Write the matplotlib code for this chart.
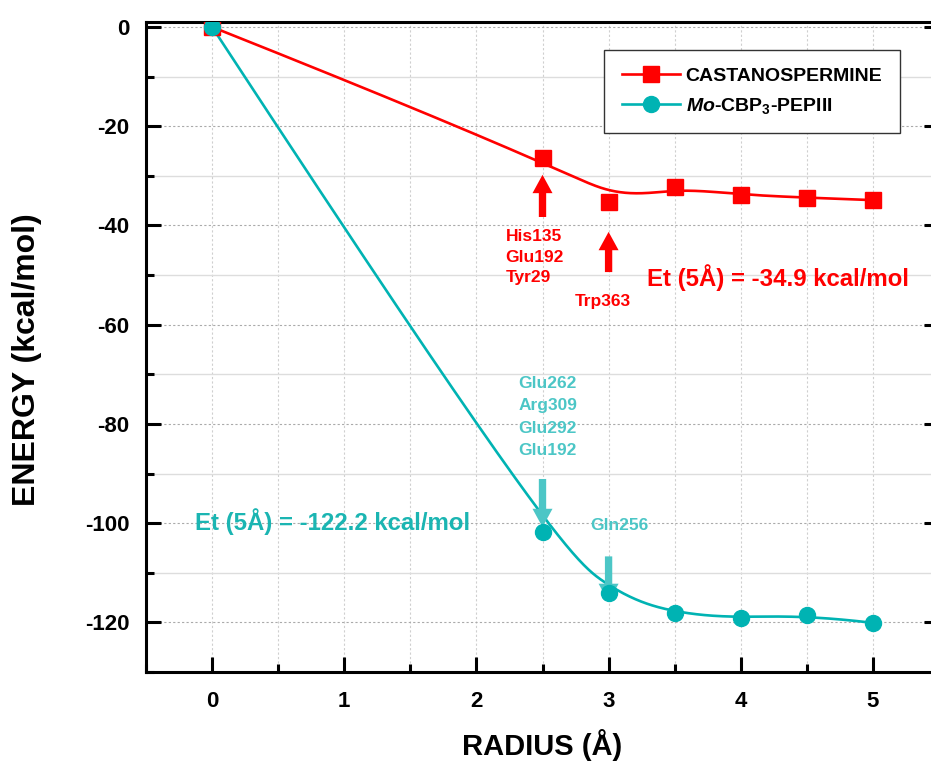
import numpy as np
import matplotlib
matplotlib.use("Agg")
import matplotlib.pyplot as plt

plt.rcParams['font.family'] = ['Liberation Sans', 'DejaVu Sans']
plt.rcParams['font.weight'] = 'bold'
plt.rcParams['mathtext.fontset'] = 'custom'
plt.rcParams['mathtext.rm'] = 'Liberation Sans:bold'
plt.rcParams['mathtext.it'] = 'Liberation Sans:bold:italic'
plt.rcParams['mathtext.bf'] = 'Liberation Sans:bold'

radius = [0, 2.5, 3, 3.5, 4, 4.5, 5]
castanospermine = [0, -26.5, -35.2, -32.3, -33.9, -34.4, -34.9]
mocbp = [0, -101.7, -114.1, -118.2, -119.2, -118.5, -120.1]
x_ticks = [0, 1, 2, 3, 4, 5]
y_ticks = [0, -20, -40, -60, -80, -100, -120]

RED = '#ff0000'
CYAN = '#00b3b3'
CYAN_TXT = '#1bb5b2'
CYAN_LIGHT = '#4cc6c6'


def bspline(xs, ys, npts=400):
    P = np.column_stack([xs, ys]).astype(float)
    n = len(P)
    k = 3
    knots = np.concatenate([[0] * k, np.arange(n - k + 1), [n - k] * k]).astype(float)
    t = np.linspace(0, n - k, npts)
    t[-1] -= 1e-9

    def basis(i, p, tt):
        if p == 0:
            return np.where((knots[i] <= tt) & (tt < knots[i + 1]), 1.0, 0.0)
        a = np.zeros_like(tt)
        d1 = knots[i + p] - knots[i]
        if d1 > 0:
            a += (tt - knots[i]) / d1 * basis(i, p - 1, tt)
        d2 = knots[i + p + 1] - knots[i + 1]
        if d2 > 0:
            a += (knots[i + p + 1] - tt) / d2 * basis(i + 1, p - 1, tt)
        return a

    C = np.zeros((npts, 2))
    for i in range(n):
        C += basis(i, k, t)[:, None] * P[i]
    return C[:, 0], C[:, 1]


fig = plt.figure(figsize=(9.31, 7.64), dpi=100)
ax = fig.add_axes([146 / 931, 1 - 672 / 764, (939 - 146) / 931, (672 - 22) / 764])
ax.set_xlim(-0.5, 5.5)
ax.set_ylim(-130, 1)

# grid
for xv in np.arange(0, 5.01, 0.5):
    ax.axvline(xv, color='#cfcfcf', lw=0.8, ls=(0, (2, 2)), zorder=0)
for yv in y_ticks:
    ax.axhline(yv, color='#aaaaaa', lw=0.8, ls=(0, (2, 2)), zorder=0)
for yv in np.arange(-10, -131, -20):
    ax.axhline(yv, color='#dddddd', lw=1.0, zorder=0)

# curves
bx, by = bspline(radius, castanospermine)
ax.plot(bx, by, color=RED, lw=1.9, zorder=3)
ax.plot(radius, castanospermine, ls='none', marker='s', ms=11, color=RED, zorder=4)
cx, cy = bspline(radius, mocbp)
ax.plot(cx, cy, color=CYAN, lw=1.9, zorder=3)
ax.plot(radius, mocbp, ls='none', marker='o', ms=11.5, color=CYAN, zorder=4)

# legend proxies
h1, = ax.plot([], [], color=RED, lw=1.9, marker='s', ms=11)
h2, = ax.plot([], [], color=CYAN, lw=1.9, marker='o', ms=11.5)
leg = ax.legend([h1, h2], ['CASTANOSPERMINE', r'$\it{Mo}$-CBP$_3$-PEPIII'],
                loc='upper right', bbox_to_anchor=(900 / 931, 1 - 50 / 764),
                bbox_transform=fig.transFigure, borderaxespad=0,
                fancybox=False, edgecolor='#333333', framealpha=1,
                prop={'size': 14, 'weight': 'bold'}, handlelength=3.0,
                borderpad=0.9, labelspacing=0.55, handletextpad=0.3)
leg.get_frame().set_linewidth(1.0)

# ticks and spines
ax.set_xticks(x_ticks)
ax.set_xticks(np.arange(-0.5, 5.51, 0.5), minor=True)
ax.set_yticks(y_ticks)
ax.set_yticks(np.arange(-130, 1, 10), minor=True)
ax.set_xticklabels([str(v) for v in x_ticks])
ax.set_yticklabels([str(v) for v in y_ticks])
ax.tick_params(axis='both', which='major', direction='in', length=11, width=2.2,
               labelsize=16, right=True, top=False)
ax.tick_params(axis='both', which='minor', direction='in', length=6, width=2.2,
               right=True, top=False)
ax.tick_params(axis='x', which='major', pad=14)
ax.tick_params(axis='y', which='major', pad=12)
for s in ax.spines.values():
    s.set_linewidth(2.2)
for lab in ax.get_xticklabels() + ax.get_yticklabels():
    lab.set_fontweight('bold')

fig.text(542 / 931, 1 - 745 / 764, 'RADIUS (Å)', ha='center', va='center',
         fontsize=21, fontweight='bold')
fig.text(27 / 931, 1 - 360 / 764, 'ENERGY (kcal/mol)', ha='center', va='center',
         rotation=90, fontsize=23, fontweight='bold')

# annotations
arrow_kw = dict(arrowstyle='simple,head_length=0.55,head_width=0.6,tail_width=0.22',
                lw=0, shrinkA=0, shrinkB=0, mutation_scale=24)
ax.annotate('', xy=(2.5, -29.8), xytext=(2.5, -38.3),
            arrowprops=dict(color=RED, **arrow_kw))
ax.annotate('', xy=(3.0, -41.3), xytext=(3.0, -49.4),
            arrowprops=dict(color=RED, **arrow_kw))
ax.text(2.22, -46.4, 'His135\nGlu192\nTyr29', color=RED, fontsize=12.5,
        fontweight='bold', ha='left', va='center', linespacing=1.44)
ax.text(2.96, -55.4, 'Trp363', color=RED, fontsize=12.5, fontweight='bold',
        ha='center', va='center')
ax.text(3.29, -50.6, 'Et (5Å) = -34.9 kcal/mol', color=RED, fontsize=17.3,
        fontweight='bold', ha='left', va='center')

ax.annotate('', xy=(2.5, -100.8), xytext=(2.5, -91.1),
            arrowprops=dict(color=CYAN_LIGHT, **arrow_kw))
ax.annotate('', xy=(3.0, -115.9), xytext=(3.0, -106.7),
            arrowprops=dict(color=CYAN_LIGHT, **arrow_kw))
ax.text(2.54, -78.6, 'Glu262\nArg309\nGlu292\nGlu192', color=CYAN_LIGHT, fontsize=12.5,
        fontweight='bold', ha='center', va='center', linespacing=1.62)
ax.text(3.08, -100.4, 'Gln256', color=CYAN_LIGHT, fontsize=12.5, fontweight='bold',
        ha='center', va='center')
ax.text(-0.13, -99.6, 'Et (5Å) = -122.2 kcal/mol', color=CYAN_TXT, fontsize=17.3,
        fontweight='bold', ha='left', va='center')

fig.savefig('out.png', dpi=100)
